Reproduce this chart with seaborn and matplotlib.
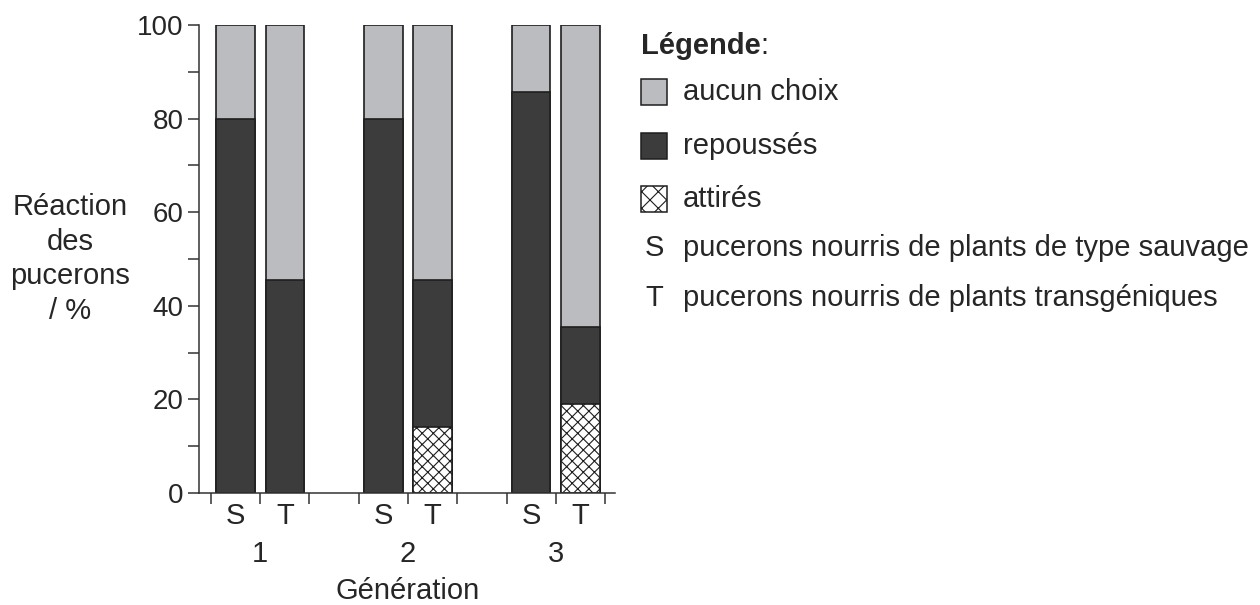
import matplotlib
matplotlib.use("Agg")
import matplotlib.pyplot as plt
from matplotlib.patches import Rectangle
import seaborn as sns

# bar positions on the x axis (S, T for each generation)
positions = [0.5, 1.5, 3.5, 4.5, 6.5, 7.5]
bar_labels = ["S", "T", "S", "T", "S", "T"]
generations = ["1", "2", "3"]
generation_pos = [1, 4, 7]

# reaction of aphids in %
attires = [0, 0, 0, 14.2, 0, 19.1]
repousses = [80, 45.5, 80, 31.4, 85.7, 16.4]
aucun_choix = [20, 54.5, 20, 54.4, 14.3, 64.5]

legend_labels = ["aucun choix", "repoussés", "attirés"]
letter_keys = ["S", "T"]
letter_texts = ["pucerons nourris de plants de type sauvage",
                "pucerons nourris de plants transgéniques"]

light = "#bbbcbf"
dark = "#3c3c3c"
edge = "#1e1e1e"
fs = 21

sns.set_style("ticks")
plt.rcParams["font.family"] = ["Liberation Sans", "DejaVu Sans"]
plt.rcParams["hatch.linewidth"] = 0.8
plt.rcParams["hatch.color"] = edge

fig = plt.figure(figsize=(12.6, 6.05), dpi=100)
ax = fig.add_axes([199 / 1260, 1 - 493 / 605, 416 / 1260, 468 / 605])

# stacked tops
top_rep = [a + r for a, r in zip(attires, repousses)]
top_all = [t + n for t, n in zip(top_rep, aucun_choix)]

common = dict(native_scale=True, width=0.78, saturation=1, errorbar=None,
              edgecolor=edge, linewidth=1.2, ax=ax)
sns.barplot(x=positions, y=top_all, color=light, **common)
sns.barplot(x=positions, y=top_rep, color=dark, **common)
sns.barplot(x=positions, y=attires, color="white", hatch="xxx", **common)

ax.set_xlim(-0.24, 8.2)
ax.set_ylim(0, 100)
ax.set_xlabel("")
ax.set_ylabel("")
ax.set_yticks(range(0, 101, 20))
ax.set_yticks(range(10, 100, 20), minor=True)
ax.set_xticks(range(0, 9))
ax.set_xticklabels([])
ax.tick_params(axis="both", which="both", length=8, width=1.1, color="#333333",
               labelsize=20, pad=3, direction="out")
for side in ["top", "right"]:
    ax.spines[side].set_visible(False)
for side in ["left", "bottom"]:
    ax.spines[side].set_color("#333333")
    ax.spines[side].set_linewidth(1.1)

trans = ax.get_xaxis_transform()
for p, lab in zip(positions, bar_labels):
    ax.text(p, -0.05, lab, transform=trans, ha="center", va="center", fontsize=fs)
for p, g in zip(generation_pos, generations):
    ax.text(p, -0.13, g, transform=trans, ha="center", va="center", fontsize=fs)
ax.text(4, -0.21, "Génération", transform=trans, ha="center", va="center", fontsize=fs)

fig.text(70 / 1260, 1 - 259 / 605, "Réaction\ndes\npucerons\n/ %", ha="center",
         va="center", fontsize=fs, linespacing=1.3)

# legend built by hand
W, H = 1260, 605
title = fig.text(641 / W, 1 - 46 / H, "Légende", fontsize=fs, fontweight="bold",
                 ha="left", va="center")
fig.canvas.draw()
bb = title.get_window_extent()
fig.text(bb.x1 / W, 1 - 46 / H, ":", fontsize=fs, ha="left", va="center")

centers = [92, 146, 199]
fills = [light, dark, "white"]
hatches = [None, None, "xx"]
for c, f, h, lab in zip(centers, fills, hatches, legend_labels):
    fig.add_artist(Rectangle((641 / W, 1 - (c + 13) / H), 26 / W, 26 / H,
                             transform=fig.transFigure, facecolor=f, edgecolor=edge,
                             linewidth=1.1, hatch=h))
    fig.text(683 / W, 1 - c / H, lab, fontsize=fs, ha="left", va="center")

for c, k, t in zip([248, 298], letter_keys, letter_texts):
    fig.text(654 / W, 1 - c / H, k, fontsize=fs, ha="center", va="center")
    fig.text(683 / W, 1 - c / H, t, fontsize=fs, ha="left", va="center")

fig.savefig("out.png", dpi=100)
